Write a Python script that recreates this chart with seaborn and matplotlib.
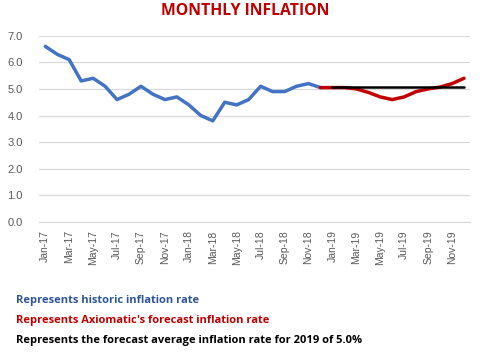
import numpy as np
import pandas as pd
import seaborn as sns
import matplotlib.pyplot as plt

# months Jan-17 .. Dec-19
months = pd.date_range("2017-01-01", "2019-12-01", freq="MS").strftime("%b-%y").tolist()

# historic inflation Jan-17 .. Dec-18
historic = [6.6, 6.3, 6.1, 5.3, 5.4, 5.1, 4.6, 4.8, 5.1, 4.8, 4.6, 4.7,
            4.4, 4.0, 3.8, 4.5, 4.4, 4.6, 5.1, 4.9, 4.9, 5.1, 5.2, 5.05]
# Axiomatic forecast Dec-18 .. Dec-19
forecast = [5.05, 5.05, 5.05, 5.0, 4.87, 4.7, 4.6, 4.7, 4.9, 5.0, 5.07, 5.2, 5.4]
# forecast average for 2019, Jan-19 .. Dec-19
avg_2019 = [5.08] * 12

hist_df = pd.DataFrame({"pos": range(0, 24), "rate": historic})
fc_df = pd.DataFrame({"pos": range(23, 36), "rate": forecast})
avg_df = pd.DataFrame({"pos": range(24, 36), "rate": avg_2019})

sns.set_style("white")
plt.rcParams['font.family'] = ['Liberation Sans', 'DejaVu Sans']

fig = plt.figure(figsize=(4.83, 3.54), dpi=100)
ax = fig.add_axes([39.3 / 483, 1 - 222 / 354, (470 - 39.3) / 483, (222 - 35.7) / 354])

sns.lineplot(data=hist_df, x="pos", y="rate", color="#4472C4", linewidth=2.5, ax=ax)
sns.lineplot(data=fc_df, x="pos", y="rate", color="#C00000", linewidth=2.5, ax=ax)
sns.lineplot(data=avg_df, x="pos", y="rate", color="black", linewidth=1.8, ax=ax)

ax.set_xlim(-0.5, 35.5)
ax.set_ylim(0, 7)
ax.set_yticks(np.arange(0, 7.5, 1.0))
ax.set_yticklabels([f"{v:.1f}" for v in np.arange(0, 7.5, 1.0)], fontsize=8, color="#595959")
ax.yaxis.grid(True, color="#D9D9D9", linewidth=0.9)
ax.set_axisbelow(True)

ax.set_xticks(range(0, 36, 2))
ax.set_xticklabels(months[::2], rotation=90, fontsize=7.5, color="#595959")
ax.set_xticks(np.arange(-0.5, 36, 2), minor=True)
ax.tick_params(axis="x", which="major", length=0, pad=6)
ax.tick_params(axis="x", which="minor", length=4, color="#D9D9D9", direction="out")
ax.tick_params(axis="y", length=0, pad=12)
ax.set_xlabel("")
ax.set_ylabel("")
for side in ["top", "right", "left"]:
    ax.spines[side].set_visible(False)
ax.spines["bottom"].set_color("#D9D9D9")

fig.text(245 / 483, 1 - 11 / 354, "MONTHLY INFLATION", ha="center", va="center",
         fontsize=11.3, fontweight="bold", color="#C00000", family=["Open Sans", "DejaVu Sans"])

notes = [("Represents historic inflation rate", "#2F5597"),
         ("Represents Axiomatic's forecast inflation rate", "#C00000"),
         ("Represents the forecast average inflation rate for 2019 of 5.0%", "black")]
for i, (txt, col) in enumerate(notes):
    fig.text(16 / 483, 1 - (300 + 20 * i) / 354, txt, ha="left", va="center",
             fontsize=8, fontweight="bold", color=col, family=["Open Sans", "DejaVu Sans"])

fig.savefig("out.png", dpi=100)
